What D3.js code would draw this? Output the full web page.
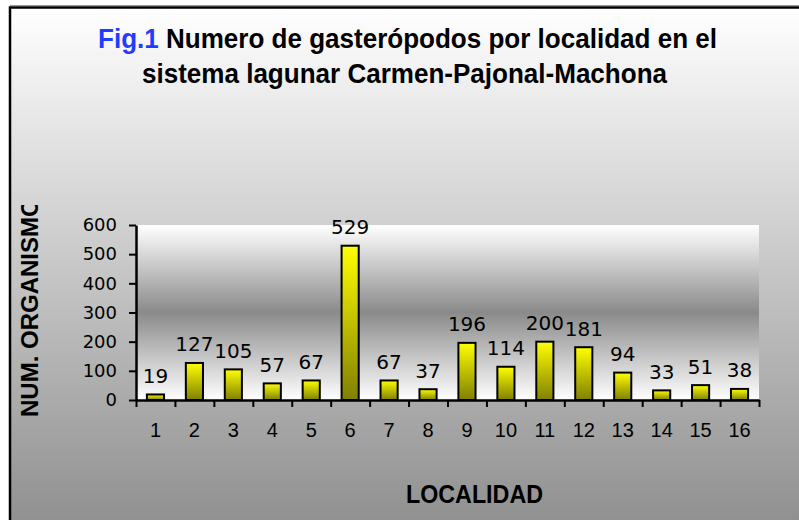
<!DOCTYPE html>
<html>
<head>
<meta charset="utf-8">
<script src="https://cdn.jsdelivr.net/npm/d3@7"></script>
<style>
  body { margin: 0; background: #fff; }
  svg { display: block; }
</style>
</head>
<body>
<div id="chart"></div>
<script>
// data
const localidades = ['1', '2', '3', '4', '5', '6', '7', '8', '9', '10', '11', '12', '13', '14', '15', '16'];
const organismos = [19, 127, 105, 57, 67, 529, 67, 37, 196, 114, 200, 181, 94, 33, 51, 38];
const yTicks = [0, 100, 200, 300, 400, 500, 600];

const width = 799;
const height = 520;
const plot = { left: 136, right: 759, top: 225, bottom: 400 };
const sansFont = '"Liberation Sans", Arial, sans-serif';

const svg = d3.select('#chart')
  .append('svg')
  .attr('width', width)
  .attr('height', height);

const defs = svg.append('defs');

// outer chart area gradient (white -> gray)
const bgGrad = defs.append('linearGradient')
  .attr('id', 'bgGrad')
  .attr('x1', 0).attr('y1', 0).attr('x2', 0).attr('y2', 1);
bgGrad.append('stop').attr('offset', '0%').attr('stop-color', '#ffffff');
bgGrad.append('stop').attr('offset', '100%').attr('stop-color', '#8f8f8f');

// plot area gradient (white -> gray -> white)
const plotGrad = defs.append('linearGradient')
  .attr('id', 'plotGrad')
  .attr('x1', 0).attr('y1', 0).attr('x2', 0).attr('y2', 1);
plotGrad.append('stop').attr('offset', '0%').attr('stop-color', '#ffffff');
plotGrad.append('stop').attr('offset', '50%').attr('stop-color', '#8a8a8a');
plotGrad.append('stop').attr('offset', '100%').attr('stop-color', '#ffffff');

// bar gradient (yellow -> olive)
const barGrad = defs.append('linearGradient')
  .attr('id', 'barGrad')
  .attr('x1', 0).attr('y1', 0).attr('x2', 0).attr('y2', 1);
barGrad.append('stop').attr('offset', '0%').attr('stop-color', '#ffff00');
barGrad.append('stop').attr('offset', '100%').attr('stop-color', '#808000');

defs.append('clipPath').attr('id', 'yTitleClip')
  .append('rect').attr('x', 0).attr('y', 205).attr('width', 80).attr('height', 260);

// outer frame
svg.append('line')
  .attr('x1', 10).attr('x2', width).attr('y1', 5.5).attr('y2', 5.5)
  .attr('stroke', '#999').attr('stroke-width', 1);
svg.append('rect')
  .attr('x', 10).attr('y', 7.5)
  .attr('width', width + 10).attr('height', height)
  .attr('fill', 'url(#bgGrad)')
  .attr('stroke', '#000')
  .attr('stroke-width', 2.5);

// plot area
svg.append('rect')
  .attr('x', plot.left).attr('y', plot.top)
  .attr('width', plot.right - plot.left).attr('height', plot.bottom - plot.top)
  .attr('fill', 'url(#plotGrad)');

const x = d3.scaleBand()
  .domain(localidades)
  .range([plot.left, plot.right])
  .paddingInner(0.56)
  .paddingOuter(0.28);

const xEdges = d3.scaleLinear()
  .domain([0, localidades.length])
  .range([plot.left, plot.right]);

const y = d3.scaleLinear()
  .domain([0, 600])
  .range([plot.bottom, plot.top]);

// bars
svg.selectAll('.bar')
  .data(organismos)
  .enter()
  .append('rect')
  .attr('class', 'bar')
  .attr('x', (d, i) => x(localidades[i]))
  .attr('y', (d) => y(d))
  .attr('width', x.bandwidth())
  .attr('height', (d) => y(0) - y(d))
  .attr('fill', 'url(#barGrad)')
  .attr('stroke', '#000')
  .attr('stroke-width', 2);

// value labels
svg.selectAll('.val')
  .data(organismos)
  .enter()
  .append('text')
  .attr('class', 'val')
  .attr('x', (d, i) => x(localidades[i]) + x.bandwidth() / 2)
  .attr('y', (d) => y(d) - 11.5)
  .attr('text-anchor', 'middle')
  .style('font-family', 'DejaVu Sans, sans-serif')
  .style('font-size', '20px')
  .attr('fill', '#000')
  .text((d) => d);

// y axis
const yAxis = svg.append('g')
  .attr('transform', `translate(${plot.left},0)`)
  .call(d3.axisLeft(y).tickValues(yTicks).tickSize(7).tickPadding(12).tickSizeOuter(0));
yAxis.select('.domain').attr('stroke-width', 2.5);
yAxis.selectAll('.tick line').attr('stroke-width', 2);
yAxis.selectAll('.tick text')
  .style('font-family', 'DejaVu Sans, sans-serif')
  .style('font-size', '18px')
  .attr('fill', '#000');

// x axis: tick marks at category edges
const xTickAxis = svg.append('g')
  .attr('transform', `translate(0,${plot.bottom})`)
  .call(d3.axisBottom(xEdges).ticks(16).tickSize(7).tickFormat('').tickSizeOuter(0));
xTickAxis.select('.domain').attr('stroke-width', 2.5);
xTickAxis.selectAll('.tick line').attr('stroke-width', 2);

// x axis: labels at category centers
const xLabelAxis = svg.append('g')
  .attr('transform', `translate(0,${plot.bottom})`)
  .call(d3.axisBottom(x).tickSize(0).tickPadding(23));
xLabelAxis.select('.domain').remove();
xLabelAxis.selectAll('.tick text')
  .style('font-family', sansFont)
  .style('font-size', '20px')
  .attr('fill', '#000');

// title (condensed bold)
const line1 = svg.append('text')
  .attr('x', 98)
  .attr('y', 48)
  .attr('textLength', 619)
  .attr('lengthAdjust', 'spacingAndGlyphs')
  .style('font-family', sansFont)
  .style('font-weight', 'bold')
  .style('font-size', '27px');
line1.append('tspan').attr('fill', '#1f3cff').text('Fig.1');
line1.append('tspan').attr('fill', '#000').text(' Numero de gasterópodos por localidad en el');

svg.append('text')
  .attr('x', 142)
  .attr('y', 83)
  .attr('textLength', 525)
  .attr('lengthAdjust', 'spacingAndGlyphs')
  .style('font-family', sansFont)
  .style('font-weight', 'bold')
  .style('font-size', '27px')
  .attr('fill', '#000')
  .text('sistema lagunar Carmen-Pajonal-Machona');

// axis titles
svg.append('text')
  .attr('x', 406)
  .attr('y', 503)
  .attr('textLength', 137)
  .attr('lengthAdjust', 'spacingAndGlyphs')
  .style('font-family', sansFont)
  .style('font-weight', 'bold')
  .style('font-size', '25px')
  .text('LOCALIDAD');

svg.append('g')
  .attr('clip-path', 'url(#yTitleClip)')
  .append('text')
  .attr('transform', 'translate(38,417) rotate(-90)')
  .attr('text-anchor', 'start')
  .style('font-family', sansFont)
  .style('font-weight', 'bold')
  .style('font-size', '24px')
  .text('NUM. ORGANISMOS');
</script>
</body>
</html>
